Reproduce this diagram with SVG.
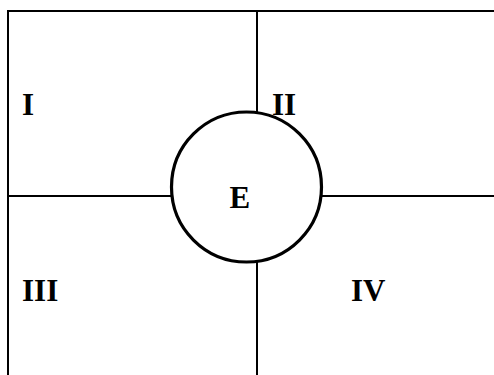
<svg xmlns="http://www.w3.org/2000/svg" width="494" height="375" viewBox="0 0 494 375">
<style>
.ln{stroke:#000;stroke-width:2;fill:none}
.lb{font-family:"Liberation Serif","Times New Roman",serif;font-weight:bold;font-size:31px;fill:#000}
</style>
<rect width="494" height="375" fill="#fff"/>
<g id="connectors">
<polyline class="ln" points="8,375 8,11 494,11"/>
<line class="ln" x1="257" y1="11" x2="257" y2="112"/>
<line class="ln" x1="257" y1="262" x2="257" y2="375"/>
<line class="ln" x1="8" y1="196" x2="171" y2="196"/>
<line class="ln" x1="322" y1="196" x2="494" y2="196"/>
</g>
<g id="I"><text class="lb" x="22" y="115">I</text></g>
<g id="II"><text class="lb" x="272" y="115">II</text></g>
<g id="III"><text class="lb" x="22" y="301">III</text></g>
<g id="IV"><text class="lb" x="351" y="301">IV</text></g>
<g id="E">
<circle cx="246.5" cy="187" r="75" stroke="#000" stroke-width="3.2" fill="#fff"/>
<text class="lb" x="229.5" y="208">E</text>
</g>
</svg>
